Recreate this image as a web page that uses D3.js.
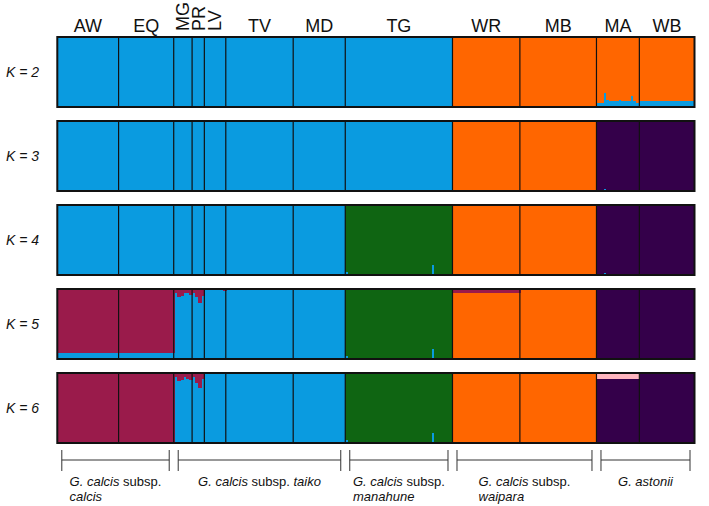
<!DOCTYPE html>
<html lang="en">
<head>
<meta charset="UTF-8">
<title>STRUCTURE plot, K = 2 to 6</title>
<script src="https://d3js.org/d3.v7.min.js"></script>
<style>
    body { margin: 0; background: #fff; }
    svg { display: block; font-family: "Liberation Sans", Arial, sans-serif; }
    .layer rect { shape-rendering: crispEdges; }
    .frame { fill: none; stroke: #111; stroke-width: 2px; }
    .sep { stroke: #111; stroke-width: 1.2px; }
    .pop-label { font-size: 18px; fill: #111; }
    .k-label { font-size: 14px; font-style: italic; fill: #111; }
    .bracket { stroke: #333; stroke-width: 1px; fill: none; }
    .group-label { font-size: 13px; fill: #111; white-space: pre; }
</style>
</head>
<body>
<div id="chart"></div>
<script>
    var populations = ["AW", "EQ", "MG", "PR", "LV", "TV", "MD", "TG", "WR", "MB", "MA", "WB"];
    var popSizes = [20, 18, 6, 4, 7, 22, 17, 35, 22, 25, 14, 18];
    var rotatedLabels = ["MG", "PR", "LV"];
    // cluster order = stacking order, bottom first
    var clusterColors = ["#0a9be0", "#ff6600", "#34004a", "#0f6512", "#9a1b4b", "#ffb6bf"];
    var kValues = [2, 3, 4, 5, 6];

    // dominant cluster of each population, per K
    var mainK2 = [0, 0, 0, 0, 0, 0, 0, 0, 1, 1, 1, 1];
    var mainK3 = [0, 0, 0, 0, 0, 0, 0, 0, 1, 1, 2, 2];
    var mainK4 = [0, 0, 0, 0, 0, 0, 0, 3, 1, 1, 2, 2];
    var mainK5 = [4, 4, 0, 0, 0, 0, 0, 3, 1, 1, 2, 2];
    var mainK6 = [4, 4, 0, 0, 0, 0, 0, 3, 1, 1, 2, 2];

    // admixed membership: [population, cluster, q per individual]
    var tgBlue = [0.04, 0, 0, 0, 0, 0, 0, 0, 0, 0, 0, 0, 0, 0, 0, 0, 0, 0, 0, 0, 0, 0, 0, 0, 0, 0, 0, 0, 0.15, 0, 0, 0, 0, 0, 0];
    var admixK2 = [
        ["MA", 0, [0.06, 0.06, 0.2, 0.1, 0.08, 0.09, 0.08, 0.1, 0.08, 0.09, 0.08, 0.16, 0.08, 0.06]],
        ["WB", 0, [0.09, 0.09, 0.09, 0.08, 0.09, 0.09, 0.09, 0.09, 0.08, 0.09, 0.09, 0.09, 0.09, 0.09, 0.09, 0.08, 0.09, 0.09]]
    ];
    var admixK3 = [
        ["MA", 0, [0, 0, 0.03, 0, 0, 0, 0, 0, 0, 0, 0, 0, 0, 0]]
    ];
    var admixK4 = [
        ["TG", 0, tgBlue],
        ["MA", 0, [0, 0, 0.03, 0, 0, 0, 0, 0, 0, 0, 0, 0, 0, 0]]
    ];
    var admixK5 = [
        ["AW", 0, [0.09, 0.09, 0.09, 0.09, 0.09, 0.09, 0.09, 0.09, 0.09, 0.09, 0.09, 0.09, 0.09, 0.09, 0.09, 0.09, 0.09, 0.09, 0.09, 0.09]],
        ["EQ", 0, [0.09, 0.09, 0.09, 0.09, 0.09, 0.09, 0.09, 0.09, 0.09, 0.09, 0.09, 0.09, 0.09, 0.09, 0.09, 0.09, 0.09, 0.09]],
        ["MG", 4, [0.05, 0.12, 0.1, 0.05, 0.06, 0.08]],
        ["PR", 4, [0.05, 0.12, 0.2, 0.1]],
        ["LV", 4, [0, 0, 0, 0, 0, 0.02, 0.03]],
        ["TG", 0, tgBlue],
        ["WR", 4, [0.06, 0.06, 0.06, 0.06, 0.06, 0.06, 0.06, 0.06, 0.06, 0.06, 0.06, 0.06, 0.06, 0.06, 0.06, 0.06, 0.06, 0.06, 0.06, 0.06, 0.06, 0.06]],
        ["MA", 0, [0, 0, 0.02, 0, 0, 0, 0, 0, 0, 0, 0, 0, 0, 0]]
    ];
    var admixK6 = [
        ["MG", 4, [0.05, 0.12, 0.1, 0.06, 0.08, 0.1]],
        ["PR", 4, [0.05, 0.14, 0.22, 0.08]],
        ["LV", 4, [0, 0, 0, 0, 0, 0.02, 0.02]],
        ["TG", 0, tgBlue],
        ["MA", 5, [0.09, 0.09, 0.09, 0.09, 0.09, 0.09, 0.09, 0.09, 0.09, 0.09, 0.09, 0.09, 0.09, 0.09]]
    ];
    var mains = [mainK2, mainK3, mainK4, mainK5, mainK6];
    var admixes = [admixK2, admixK3, admixK4, admixK5, admixK6];

    // taxon brackets below the plot
    var groupFirst = ["AW", "MG", "TG", "WR", "MA"];
    var groupLast = ["EQ", "MD", "TG", "MB", "WB"];
    var groupLabels = [
        [[["G. calcis", true], [" subsp.", false]], [["calcis", true]]],
        [[["G. calcis", true], [" subsp. ", false], ["taiko", true]]],
        [[["G. calcis", true], [" subsp.", false]], [["manahune", true]]],
        [[["G. calcis", true], [" subsp.", false]], [["waipara", true]]],
        [[["G. astonii", true]]]
    ];

    var width = 709, height = 506;
    var svg = d3.select("#chart").append("svg")
        .attr("width", width)
        .attr("height", height);

    var total = d3.sum(popSizes);
    var popOffsets = [0].concat(Array.from(d3.cumsum(popSizes)));

    var x = d3.scaleBand().domain(d3.range(total)).range([57.3, 694.5]);
    var y = d3.scaleBand().domain(kValues).range([37, 443]).paddingInner(1 / 6).paddingOuter(0);

    function popLeft(p) { return x(popOffsets[populations.indexOf(p)]); }
    function popRight(p) {
        var j = populations.indexOf(p) + 1;
        return j < populations.length ? x(popOffsets[j]) : x.range()[1];
    }

    function buildIndividuals(main, admix) {
        var rows = [];
        populations.forEach(function(p, pi) {
            for (var i = 0; i < popSizes[pi]; i++) {
                var q = clusterColors.map(function() { return 0; });
                admix.filter(function(a) { return a[0] === p; }).forEach(function(a) {
                    q[a[1]] += a[2][i];
                });
                q[main[pi]] = 1 - d3.sum(q);
                rows.push({pop: p, q: q});
            }
        });
        return rows;
    }

    var stack = d3.stack()
        .keys(d3.range(clusterColors.length))
        .value(function(d, k) { return d.q[k]; });

    kValues.forEach(function(k, ki) {
        var rows = buildIndividuals(mains[ki], admixes[ki]);
        var series = stack(rows);
        var yq = d3.scaleLinear().domain([0, 1]).range([y(k) + y.bandwidth(), y(k)]);
        var g = svg.append("g");

        g.selectAll("g.layer")
            .data(series)
            .enter().append("g")
            .attr("class", "layer")
            .attr("fill", function(s) { return clusterColors[s.key]; })
            .selectAll("rect")
            .data(function(s) { return s.map(function(d, i) { return {i: i, y0: d[0], y1: d[1]}; })
                .filter(function(d) { return d.y1 - d.y0 > 0; }); })
            .enter().append("rect")
                .attr("x", function(d) { return x(d.i); })
                .attr("width", function(d) { return d.i < total - 1 ? x.bandwidth() + 1 : x.bandwidth(); })
                .attr("y", function(d) { return yq(d.y1); })
                .attr("height", function(d) { return yq(d.y0) - yq(d.y1); });

        g.selectAll("line.sep")
            .data(popOffsets.slice(1, -1))
            .enter().append("line")
            .attr("class", "sep")
            .attr("x1", function(d) { return x(d); })
            .attr("x2", function(d) { return x(d); })
            .attr("y1", y(k))
            .attr("y2", y(k) + y.bandwidth());

        g.append("rect")
            .attr("class", "frame")
            .attr("x", x.range()[0])
            .attr("y", y(k))
            .attr("width", x.range()[1] - x.range()[0])
            .attr("height", y.bandwidth());

        svg.append("text")
            .attr("class", "k-label")
            .attr("x", 6)
            .attr("y", y(k) + y.bandwidth() / 2)
            .attr("dy", "0.35em")
            .text("K = " + k);
    });

    // population labels
    populations.forEach(function(p) {
        var cx = (popLeft(p) + popRight(p)) / 2;
        var t = svg.append("text").attr("class", "pop-label").text(p);
        if (rotatedLabels.indexOf(p) >= 0) {
            t.attr("transform", "translate(" + cx + ",31) rotate(-90)")
                .attr("dy", "0.35em");
        } else {
            t.attr("x", cx).attr("y", 32).attr("text-anchor", "middle");
        }
    });

    // brackets and taxon names
    groupFirst.forEach(function(first, gi) {
        var x0 = popLeft(first) + 4.5, x1 = popRight(groupLast[gi]) - 4.5;
        var cx = (x0 + x1) / 2;
        svg.append("path")
            .attr("class", "bracket")
            .attr("d", "M" + x0 + ",450V471M" + x0 + ",460H" + x1 + "M" + x1 + ",450V471");

        var lines = groupLabels[gi];
        var line1 = svg.append("text")
            .attr("class", "group-label")
            .attr("x", cx)
            .attr("y", 486)
            .attr("text-anchor", "middle");
        lines[0].forEach(function(seg) {
            line1.append("tspan").style("font-style", seg[1] ? "italic" : "normal").text(seg[0]);
        });
        if (lines.length > 1) {
            var w = line1.node().getComputedTextLength();
            var line2 = svg.append("text")
                .attr("class", "group-label")
                .attr("x", cx - w / 2)
                .attr("y", 501);
            lines[1].forEach(function(seg) {
                line2.append("tspan").style("font-style", seg[1] ? "italic" : "normal").text(seg[0]);
            });
        }
    });
</script>
</body>
</html>
